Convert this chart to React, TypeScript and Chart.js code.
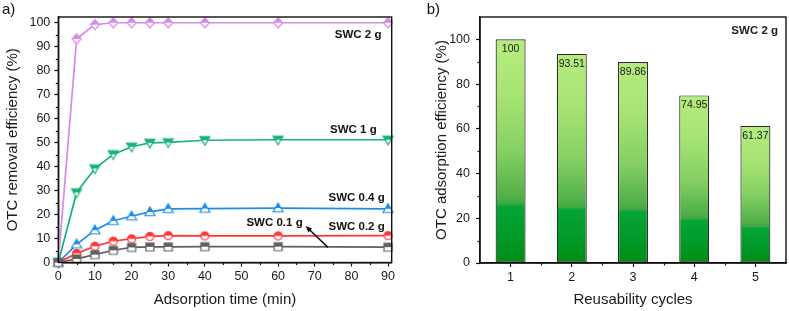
import React, { useEffect, useRef } from "react";
import { Chart, registerables } from "chart.js";

Chart.register(...registerables);

const FONT = '"Liberation Sans", Arial, Helvetica, sans-serif';
Chart.defaults.font.family = FONT;
Chart.defaults.color = "#1a1a1a";

// Panel a: removal efficiency vs. adsorption time
const times = [0, 5, 10, 15, 20, 25, 30, 40, 60, 90];
const swc2g = [0, 93.3, 99.2, 100, 100, 100, 100, 100, 100, 100];
const swc1g = [0, 29.2, 39.2, 45.1, 48.3, 49.9, 50.1, 51.0, 51.2, 51.2];
const swc04g = [0, 7.6, 13.5, 17.4, 19.3, 21.1, 22.4, 22.5, 22.7, 22.4];
const swc02g = [0, 3.8, 6.8, 8.9, 9.9, 10.9, 11.2, 11.1, 11.1, 11.2];
const swc01g = [0, 1.5, 3.3, 5.1, 6.3, 6.5, 6.5, 6.6, 6.6, 6.4];

// Panel b: reusability of SWC 2 g
const cycles = ["1", "2", "3", "4", "5"];
const reuseEfficiency = [100, 93.51, 89.86, 74.95, 61.37];

type Shape = "diamond" | "triDown" | "triUp" | "circle" | "square";

const seriesA: { label: string; data: number[]; color: string; shape: Shape; size: number }[] = [
  { label: "SWC 0.1 g", data: swc01g, color: "#606060", shape: "square", size: 8 },
  { label: "SWC 0.2 g", data: swc02g, color: "#ff3636", shape: "circle", size: 9 },
  { label: "SWC 0.4 g", data: swc04g, color: "#1b8de8", shape: "triUp", size: 10 },
  { label: "SWC 1 g", data: swc1g, color: "#17b47a", shape: "triDown", size: 10 },
  { label: "SWC 2 g", data: swc2g, color: "#d68be8", shape: "diamond", size: 10 },
];

// half-filled marker: upper half in series colour, lower half white
function makeMarker(shape: Shape, color: string, size: number): HTMLCanvasElement {
  const s = size + 4;
  const c = document.createElement("canvas");
  c.width = s;
  c.height = s;
  const ctx = c.getContext("2d")!;
  const cx = s / 2;
  const cy = s / 2;
  const r = size / 2;
  const path = () => {
    ctx.beginPath();
    if (shape === "diamond") {
      ctx.moveTo(cx, cy - r);
      ctx.lineTo(cx + r * 0.9, cy);
      ctx.lineTo(cx, cy + r);
      ctx.lineTo(cx - r * 0.9, cy);
      ctx.closePath();
    } else if (shape === "triUp") {
      ctx.moveTo(cx, cy - r);
      ctx.lineTo(cx + r, cy + r * 0.75);
      ctx.lineTo(cx - r, cy + r * 0.75);
      ctx.closePath();
    } else if (shape === "triDown") {
      ctx.moveTo(cx, cy + r);
      ctx.lineTo(cx + r, cy - r * 0.75);
      ctx.lineTo(cx - r, cy - r * 0.75);
      ctx.closePath();
    } else if (shape === "circle") {
      ctx.arc(cx, cy, r - 0.5, 0, Math.PI * 2);
    } else {
      ctx.rect(cx - r, cy - r, r * 2, r * 2);
    }
  };
  path();
  ctx.fillStyle = "#ffffff";
  ctx.fill();
  ctx.save();
  ctx.beginPath();
  ctx.rect(0, 0, s, cy);
  ctx.clip();
  path();
  ctx.fillStyle = color;
  ctx.fill();
  ctx.restore();
  path();
  ctx.strokeStyle = color;
  ctx.lineWidth = 1.2;
  ctx.stroke();
  return c;
}

const AXIS = "#111111";

// plot frame, minor ticks and panel letter
const framePlugin = {
  id: "frame",
  afterDraw(chart: any, _args: any, opts: any) {
    const { ctx, chartArea: a } = chart;
    const xs = chart.scales.x;
    const ys = chart.scales.y;
    ctx.save();
    ctx.strokeStyle = AXIS;
    ctx.lineWidth = 1.2;
    for (const v of opts.xMinor || []) {
      const px = Math.round(xs.getPixelForValue(v)) + 0.5;
      ctx.beginPath();
      ctx.moveTo(px, a.bottom);
      ctx.lineTo(px, a.bottom + 2.5);
      ctx.stroke();
    }
    for (const v of opts.yMinor || []) {
      const py = Math.round(ys.getPixelForValue(v)) + 0.5;
      ctx.beginPath();
      ctx.moveTo(a.left, py);
      ctx.lineTo(a.left - 2.5, py);
      ctx.stroke();
    }
    ctx.lineWidth = 1.4;
    ctx.strokeRect(a.left, a.top, a.right - a.left, a.bottom - a.top);
    if (opts.letter) {
      ctx.fillStyle = "#111";
      ctx.font = `15px ${FONT}`;
      ctx.textAlign = "left";
      ctx.textBaseline = "middle";
      ctx.fillText(opts.letter, opts.letterX, 10);
    }
    ctx.restore();
  },
};

// series labels and arrow, placed in data units
const notesA = [
  { text: "SWC 2 g", x: 88.2, y: 94.9 },
  { text: "SWC 1 g", x: 86.9, y: 55.3 },
  { text: "SWC 0.4 g", x: 89.1, y: 27.1 },
  { text: "SWC 0.2 g", x: 89.1, y: 15.0 },
  { text: "SWC 0.1 g", x: 66.7, y: 16.5 },
];
const arrowA = { from: [73.6, 6.3], to: [67.5, 15.2] };

const notesPlugin = {
  id: "notes",
  afterDatasetsDraw(chart: any) {
    const { ctx } = chart;
    const xs = chart.scales.x;
    const ys = chart.scales.y;
    ctx.save();
    ctx.fillStyle = "#111";
    ctx.font = `bold 11.5px ${FONT}`;
    ctx.textAlign = "right";
    ctx.textBaseline = "middle";
    for (const n of notesA) {
      ctx.fillText(n.text, xs.getPixelForValue(n.x), ys.getPixelForValue(n.y));
    }
    const x1 = xs.getPixelForValue(arrowA.from[0]);
    const y1 = ys.getPixelForValue(arrowA.from[1]);
    const x2 = xs.getPixelForValue(arrowA.to[0]);
    const y2 = ys.getPixelForValue(arrowA.to[1]);
    const ang = Math.atan2(y2 - y1, x2 - x1);
    const hl = 7;
    ctx.strokeStyle = "#111";
    ctx.lineWidth = 1.5;
    ctx.beginPath();
    ctx.moveTo(x1, y1);
    ctx.lineTo(x2 - Math.cos(ang) * 4, y2 - Math.sin(ang) * 4);
    ctx.stroke();
    ctx.beginPath();
    ctx.moveTo(x2, y2);
    ctx.lineTo(x2 - hl * Math.cos(ang - 0.4), y2 - hl * Math.sin(ang - 0.4));
    ctx.lineTo(x2 - hl * Math.cos(ang + 0.4), y2 - hl * Math.sin(ang + 0.4));
    ctx.closePath();
    ctx.fillStyle = "#111";
    ctx.fill();
    ctx.restore();
  },
};

// value labels inside the bar tops + sample tag
const barLabelPlugin = {
  id: "barLabels",
  afterDatasetsDraw(chart: any) {
    const { ctx, chartArea: a } = chart;
    const meta = chart.getDatasetMeta(0);
    ctx.save();
    ctx.fillStyle = "#1a1a1a";
    ctx.font = `10.5px ${FONT}`;
    ctx.textAlign = "center";
    ctx.textBaseline = "middle";
    meta.data.forEach((el: any, i: number) => {
      ctx.fillText(String(reuseEfficiency[i]), el.x, el.y + 10);
    });
    ctx.font = `bold 11.5px ${FONT}`;
    ctx.textAlign = "right";
    ctx.fillText("SWC 2 g", a.right - 8, a.top + 14);
    ctx.restore();
  },
};

const tickFont = { size: 12.5, family: FONT };
const titleFont = { size: 15, family: FONT };

function range(start: number, end: number, step: number): number[] {
  const out: number[] = [];
  for (let v = start; v <= end + 1e-9; v += step) out.push(v);
  return out;
}

function barGradient(c: any) {
  const chart = c.chart;
  if (!chart.chartArea || c.dataIndex === undefined) return "#86d163";
  const ys = chart.scales.y;
  const v = c.dataset.data[c.dataIndex];
  const top = ys.getPixelForValue(v);
  const bottom = ys.getPixelForValue(0);
  const g = chart.ctx.createLinearGradient(0, top, 0, bottom);
  g.addColorStop(0, "#b6ed7e");
  g.addColorStop(0.25, "#a7e474");
  g.addColorStop(0.5, "#85d063");
  g.addColorStop(0.7, "#52b04a");
  g.addColorStop(0.735, "#3ea840");
  g.addColorStop(0.745, "#05a536");
  g.addColorStop(0.87, "#019b2a");
  g.addColorStop(1, "#008d12");
  return g;
}

export default function App() {
  const refA = useRef<HTMLCanvasElement | null>(null);
  const refB = useRef<HTMLCanvasElement | null>(null);

  useEffect(() => {
    const chartA = new Chart(refA.current!, {
      type: "line",
      data: {
        datasets: seriesA.map((s) => ({
          label: s.label,
          data: times.map((t, i) => ({ x: t, y: s.data[i] })),
          borderColor: s.color,
          backgroundColor: s.color,
          borderWidth: 1.7,
          tension: 0,
          pointStyle: makeMarker(s.shape, s.color, s.size) as any,
          pointRadius: 5,
          clip: false as any,
        })),
      },
      options: {
        responsive: false,
        animation: false,
        devicePixelRatio: 1,
        layout: { padding: { top: 17, right: 8.3, left: 0, bottom: 0 } },
        plugins: {
          legend: { display: false },
          tooltip: { enabled: false },
          frame: { xMinor: range(5, 85, 10), yMinor: range(5, 95, 10), letter: "a)", letterX: 2 },
        } as any,
        scales: {
          x: {
            type: "linear",
            min: 0,
            max: 91,
            ticks: { stepSize: 10, includeBounds: false, font: tickFont, color: "#1a1a1a", padding: 3, maxRotation: 0 },
            grid: { drawOnChartArea: false, drawTicks: true, tickLength: 4, tickColor: AXIS, tickWidth: 1.2 },
            border: { display: true, color: AXIS, width: 1.4 },
            title: { display: true, text: "Adsorption time (min)", font: titleFont, color: "#1a1a1a", padding: { top: 0, bottom: 2 } },
            afterFit: (s: any) => {
              s.height = 311 - 262.5;
            },
          },
          y: {
            min: 0,
            max: 102.4,
            ticks: { stepSize: 10, includeBounds: false, font: tickFont, color: "#1a1a1a", padding: 4 },
            grid: { drawOnChartArea: false, drawTicks: true, tickLength: 4, tickColor: AXIS, tickWidth: 1.2 },
            border: { display: true, color: AXIS, width: 1.4 },
            title: { display: true, text: "OTC removal efficiency (%)", font: titleFont, color: "#1a1a1a", padding: { top: 3.5, bottom: 0 } },
            afterFit: (s: any) => {
              s.width = 58.3;
            },
          },
        },
      },
      plugins: [framePlugin, notesPlugin],
    });

    const chartB = new Chart(refB.current!, {
      type: "bar",
      data: {
        labels: cycles,
        datasets: [
          {
            label: "SWC 2 g",
            data: reuseEfficiency,
            backgroundColor: barGradient as any,
            borderColor: "#303030",
            borderWidth: 1.2,
            borderSkipped: false,
            barPercentage: 0.49,
            categoryPercentage: 1,
          },
        ],
      },
      options: {
        responsive: false,
        animation: false,
        devicePixelRatio: 1,
        layout: { padding: { top: 17, right: 3, left: 0, bottom: 0 } },
        plugins: {
          legend: { display: false },
          tooltip: { enabled: false },
          frame: { xMinor: range(0.5, 3.5, 1), yMinor: range(10, 90, 20), letter: "b)", letterX: 6.7 },
        } as any,
        scales: {
          x: {
            ticks: { font: tickFont, color: "#1a1a1a", padding: 3, maxRotation: 0 },
            grid: { offset: false, drawOnChartArea: false, drawTicks: true, tickLength: 4, tickColor: AXIS, tickWidth: 1.2 },
            border: { display: true, color: AXIS, width: 1.4 },
            title: { display: true, text: "Reusability cycles", font: titleFont, color: "#1a1a1a", padding: { top: 0, bottom: 2 } },
            afterFit: (s: any) => {
              s.height = 311 - 263;
            },
          },
          y: {
            min: 0,
            max: 110,
            ticks: { stepSize: 20, includeBounds: false, font: tickFont, color: "#1a1a1a", padding: 6 },
            grid: { drawOnChartArea: false, drawTicks: true, tickLength: 4, tickColor: AXIS, tickWidth: 1.2 },
            border: { display: true, color: AXIS, width: 1.4 },
            title: { display: true, text: "OTC adsorption efficiency (%)", font: titleFont, color: "#1a1a1a", padding: { top: 12.7, bottom: 0 } },
            afterFit: (s: any) => {
              s.width = 60;
            },
          },
        },
      },
      plugins: [framePlugin, barLabelPlugin],
    });

    return () => {
      chartA.destroy();
      chartB.destroy();
    };
  }, []);

  return (
    <div style={{ position: "absolute", left: 0, top: 0, width: 789, height: 311, background: "#fff" }}>
      <canvas ref={refA} width={400} height={311} style={{ position: "absolute", left: 0, top: 0 }} />
      <canvas ref={refB} width={369} height={311} style={{ position: "absolute", left: 420, top: 0 }} />
    </div>
  );
}
